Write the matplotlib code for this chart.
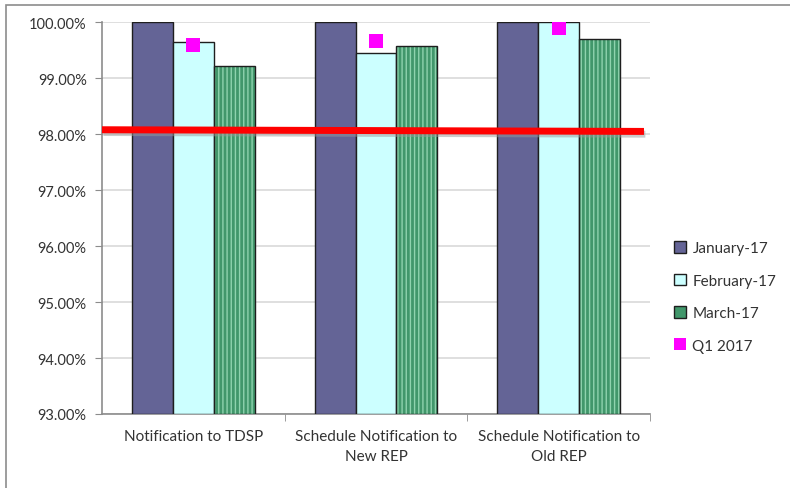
import matplotlib
matplotlib.use("Agg")
import matplotlib.pyplot as plt
import matplotlib.patches as mpatches
import matplotlib.patheffects as pe
from matplotlib.lines import Line2D
from matplotlib.ticker import FuncFormatter, MultipleLocator
import numpy as np

categories = ["Notification to TDSP", "Schedule Notification to\nNew REP", "Schedule Notification to\nOld REP"]
jan = [100.00, 100.00, 100.00]
feb = [99.64, 99.46, 100.00]
mar = [99.22, 99.58, 99.71]
q1 = [99.59, 99.67, 99.90]
target_start = 98.08
target_end = 98.05
series_labels = ["January-17", "February-17", "March-17", "Q1 2017"]

plt.rcParams['font.family'] = ['Lato', 'DejaVu Sans']

fig = plt.figure(figsize=(7.9, 4.89), dpi=100)
ax = fig.add_axes([102/790, 1-415/489, 548/790, (415-23.3)/489])

# outer chart border
fig.patches.append(mpatches.Rectangle((6/790, -0.1), 1.2, 1-5.5/489+0.1, transform=fig.transFigure,
                                      fill=False, edgecolor='#8c8c8c', linewidth=1.2))

x = np.arange(len(categories))
w = 0.224
base = 93.0
edge = '#1e1e1e'

ax.bar(x - w, np.array(jan) - base, w, bottom=base, color='#646496', edgecolor=edge, linewidth=1.0, zorder=3)
ax.bar(x, np.array(feb) - base, w, bottom=base, color='#ccffff', edgecolor=edge, linewidth=1.0, zorder=3)
ax.bar(x + w, np.array(mar) - base, w, bottom=base, color='#41976b', edgecolor='#8fd3ae',
       linewidth=0, hatch='||||', zorder=3)
ax.bar(x + w, np.array(mar) - base, w, bottom=base, fill=False, edgecolor=edge, linewidth=1.0, zorder=3)

# target line
ax.plot([-0.5, 2.467], [target_start, target_end], color='#ff0000', linewidth=5, zorder=5,
        solid_capstyle='butt', clip_on=False,
        path_effects=[pe.SimpleLineShadow(offset=(1, -2), shadow_color='#999999', alpha=0.5), pe.Normal()])

# Q1 markers
ax.scatter(x, q1, marker='s', s=110, color='#ff00ff', zorder=6, linewidths=0)

ax.set_xlim(-0.5, 2.5)
ax.set_ylim(93, 100)
ax.yaxis.set_major_locator(MultipleLocator(1))
ax.yaxis.set_major_formatter(FuncFormatter(lambda v, p: f"{v:.2f}%"))
ax.grid(axis='y', color='#d9d9d9', linewidth=1.2, zorder=0)
ax.set_axisbelow(True)

for s in ['top', 'right']:
    ax.spines[s].set_visible(False)
for s in ['left', 'bottom']:
    ax.spines[s].set_color('#8c8c8c')
    ax.spines[s].set_linewidth(1.2)

ax.set_xticks(x)
ax.set_xticklabels(categories, fontsize=11, color='#333333', linespacing=1.5)
ax.tick_params(axis='x', length=0, pad=11)
ax.set_xticks([0.5, 1.5, 2.5], minor=True)
ax.tick_params(axis='x', which='minor', length=5, color='#8c8c8c')
ax.tick_params(axis='y', length=5, color='#8c8c8c', labelsize=10.5, labelcolor='#333333', pad=6)

handles = [
    mpatches.Patch(facecolor='#646496', edgecolor=edge, linewidth=1.0),
    mpatches.Patch(facecolor='#ccffff', edgecolor=edge, linewidth=1.0),
    mpatches.Patch(facecolor='#41976b', edgecolor=edge, linewidth=1.0),
    Line2D([], [], marker='s', linestyle='none', markersize=9, markerfacecolor='#ff00ff', markeredgewidth=0),
]
leg = fig.legend(handles, series_labels, loc='upper left', bbox_to_anchor=(668/790, 1-236/489),
                 frameon=False, fontsize=11, labelspacing=1.2, handlelength=0.8, handleheight=0.8,
                 handletextpad=0.4, borderaxespad=0)
for t in leg.get_texts():
    t.set_color('#333333')

fig.savefig("out.png", dpi=100)
